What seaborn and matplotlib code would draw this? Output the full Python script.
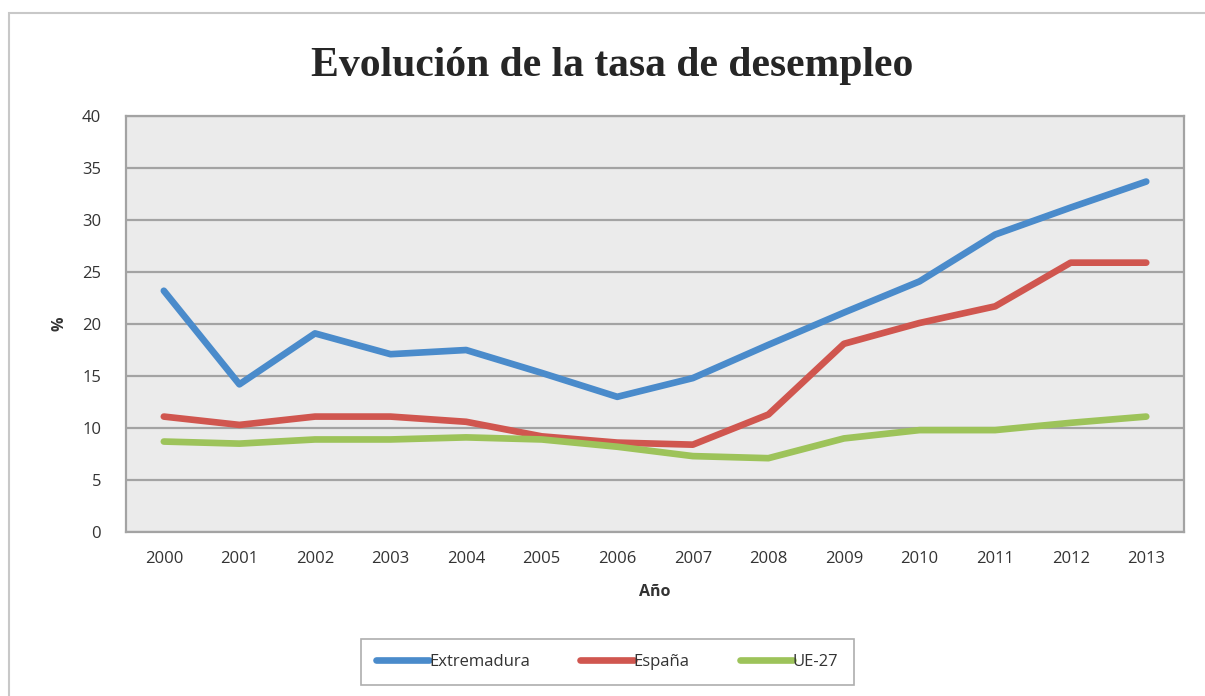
import pandas as pd
import matplotlib
matplotlib.use("Agg")
import matplotlib.pyplot as plt
from matplotlib.patches import Rectangle
import seaborn as sns

# Values
years = [2000, 2001, 2002, 2003, 2004, 2005, 2006,
         2007, 2008, 2009, 2010, 2011, 2012, 2013]
extremadura = [23.2, 14.2, 19.1, 17.1, 17.5, 15.3, 13.0,
               14.8, 18.0, 21.1, 24.1, 28.6, 31.2, 33.7]
espana = [11.1, 10.3, 11.1, 11.1, 10.6, 9.2, 8.6,
          8.4, 11.3, 18.1, 20.1, 21.7, 25.9, 25.9]
ue27 = [8.7, 8.5, 8.9, 8.9, 9.1, 8.9, 8.2,
        7.3, 7.1, 9.0, 9.8, 9.8, 10.5, 11.1]
series_names = ["Extremadura", "España", "UE-27"]
colors = ["#4A8BCB", "#D0564F", "#9DC35A"]

df = pd.DataFrame({
    "idx": list(range(len(years))) * 3,
    "valor": extremadura + espana + ue27,
    "serie": [n for n in series_names for _ in years],
})

sns.set_style("white")
plt.rcParams["font.family"] = ["Open Sans", "DejaVu Sans"]

fig = plt.figure(figsize=(12.05, 6.96), dpi=100)
ax = fig.add_axes([0.1046, 0.2356, 0.878, 0.5977])

sns.lineplot(data=df, x="idx", y="valor", hue="serie",
             palette=dict(zip(series_names, colors)),
             linewidth=4.8, ax=ax, legend=False, sort=False)
for ln in ax.lines:
    ln.set_solid_joinstyle("round")
    ln.set_solid_capstyle("round")

ax.set_facecolor("#EBEBEB")
ax.set_xlim(-0.5, len(years) - 0.5)
ax.set_ylim(0, 40)
ax.set_yticks(range(0, 41, 5))
ax.set_xticks(range(len(years)))
ax.set_xticklabels([str(y) for y in years])
ax.grid(axis="y", color="#A3A3A3", linewidth=1.6)
ax.set_axisbelow(True)
for s in ax.spines.values():
    s.set_color("#A3A3A3")
    s.set_linewidth(1.6)
ax.tick_params(axis="both", length=0, labelsize=12, colors="#333333", pad=14)
ax.tick_params(axis="y", pad=18)

ax.set_xlabel("Año", fontsize=11.5, fontweight="bold", color="#333333", labelpad=12)
ax.set_ylabel("%", fontsize=11.5, fontweight="bold", color="#333333", labelpad=10)

fig.text(0.508, 0.905, "Evolución de la tasa de desempleo",
         ha="center", va="center", fontsize=30, fontweight="bold",
         family=["Liberation Serif", "DejaVu Serif"])

handles = [plt.Line2D([], [], color=c, linewidth=4.8, solid_capstyle="round")
           for c in colors]
leg = fig.legend(handles, series_names, loc="center", ncol=3,
                 bbox_to_anchor=(0.504, 0.049), frameon=True, fancybox=False,
                 fontsize=12, handlelength=3.2, handletextpad=0.0,
                 columnspacing=3.0, borderpad=0.9, borderaxespad=0.0)
leg.get_frame().set_edgecolor("#9A9A9A")
leg.get_frame().set_linewidth(1.2)
for t in leg.get_texts():
    t.set_color("#333333")

fig.add_artist(Rectangle((0.0075, -0.05), 1.05, 0.031 + 1.0, fill=False,
                         edgecolor="#C8C8C8", linewidth=1.5,
                         transform=fig.transFigure))

fig.savefig("out.png", dpi=100, facecolor="white")
